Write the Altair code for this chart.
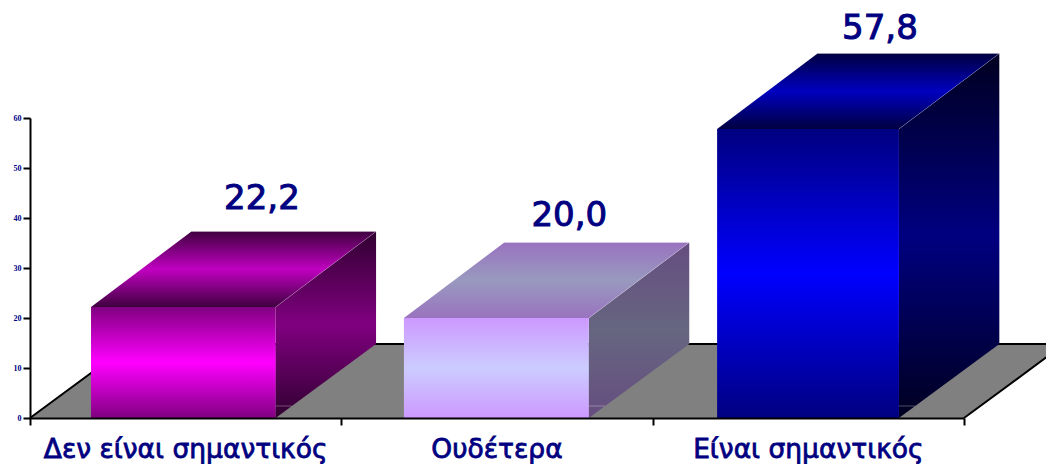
import altair as alt
import pandas as pd

categories = ["Δεν είναι σημαντικός", "Ουδέτερα", "Είναι σημαντικός"]
values = [22.2, 20.0, 57.8]
value_labels = ["22,2", "20,0", "57,8"]
y_ticks = [0, 10, 20, 30, 40, 50, 60]
x_ticks = [0, 1, 2, 3]

# face colours per bar: front (edge, centre), top (edge, centre), side (edge, centre)
front_colors = [("#800080", "#ff00ff"), ("#cc99ff", "#ccccff"), ("#000080", "#0000ff")]
top_colors = [("#400040", "#c000c0"), ("#9973bf", "#9999bf"), ("#000040", "#0000c0")]
side_colors = [("#300030", "#800080"), ("#664d80", "#666680"), ("#000020", "#000080")]

bar_left = [0.196, 1.201, 2.207]
bar_right = [0.789, 1.795, 2.791]
label_x = [0.745, 1.732, 2.73]
label_lift = [21.6, 20.4, 20.0]
DX = 0.3225   # depth in category units
DY = 14.8     # floor depth in value units
DY_TOP = 15.1 # bar top depth in value units

xs = alt.Scale(domain=[0, 3], nice=False, zero=False)
ys = alt.Scale(domain=[0, 60], nice=False, zero=False)

x_axis = alt.Axis(
    values=x_ticks, labels=False, grid=False, zindex=1,
    domainColor="black", domainWidth=2, tickColor="black", tickWidth=2, tickSize=7)
y_axis = alt.Axis(
    values=y_ticks, grid=False, zindex=1, format="d",
    domainColor="black", domainWidth=2, tickColor="black", tickWidth=2, tickSize=7,
    labelFont="Liberation Serif", labelFontSize=8, labelFontWeight="bold", labelColor="#000088",
    labelPadding=2, labelOverlap=False, labelFlush=False, labelBound=False)


def X(f="x:Q"):
    return alt.X(f, scale=xs, title=None, axis=x_axis)


def Y(f="y:Q"):
    return alt.Y(f, scale=ys, title=None, axis=y_axis)


def grad(edge, centre):
    return alt.Gradient(
        gradient="linear", x1=0, y1=0, x2=0, y2=1,
        stops=[alt.GradientStop(offset=0, color=edge),
               alt.GradientStop(offset=0.5, color=centre),
               alt.GradientStop(offset=1, color=edge)],
    )


def enc_area(ch):
    return ch.encode(x=X(), y=Y(), y2="y2:Q")


layers = []

# floor
floor = pd.DataFrame({
    "x": [0, DX, 3, 3 + DX],
    "y": [0, DY, DY, DY],
    "y2": [0, 0, 0, DY],
})
layers.append(enc_area(alt.Chart(floor).mark_area(color="#808080", opacity=1)))

outline = alt.Chart(pd.DataFrame({
    "x": [0, DX, 3 + DX, 3],
    "y": [0, DY, DY, 0],
    "o": [0, 1, 2, 3],
})).mark_line(color="black", strokeWidth=2).encode(x=X(), y=Y(), order="o:Q")
layers.append(outline)

# bars
for i, v in enumerate(values):
    l, r = bar_left[i], bar_right[i]
    side = pd.DataFrame({
        "x": [r, r + DX],
        "y": [v, v + DY_TOP],
        "y2": [0, DY],
    })
    layers.append(enc_area(alt.Chart(side).mark_area(
        color=grad(*side_colors[i]), opacity=1)))
    top = pd.DataFrame({
        "x": [l, l + DX, r, r + DX],
        "y": [v, v + DY_TOP, v + DY_TOP, v + DY_TOP],
        "y2": [v, v, v, v + DY_TOP],
    })
    layers.append(enc_area(alt.Chart(top).mark_area(
        color=grad(*top_colors[i]), opacity=1)))
    front = pd.DataFrame({"x": [l], "x2": [r], "y": [v], "y2": [0]})
    layers.append(alt.Chart(front).mark_rect(color=grad(*front_colors[i])).encode(
        x=X(), x2="x2:Q", y=Y(), y2="y2:Q",
    ))
    # pale edges of the box
    edges = pd.DataFrame({
        "x": [r, r + DX, l + DX],
        "y": [v, v + DY_TOP, v + DY_TOP],
        "o": [0, 1, 2],
    })
    layers.append(alt.Chart(edges).mark_line(color="white", strokeWidth=0.6, opacity=0.35).encode(
        x=X(), y=Y(), order="o:Q",
    ))
    # faint hidden-floor line at foot of the side face
    foot = pd.DataFrame({"x": [r], "x2": [r + 0.052], "y": [2.4]})
    layers.append(alt.Chart(foot).mark_rule(color="white", strokeWidth=1, opacity=0.3).encode(
        x=X(), x2="x2:Q", y=Y(),
    ))

labels = pd.DataFrame({
    "x": label_x,
    "y": [v + d for v, d in zip(values, label_lift)],
    "t": value_labels,
})
layers.append(alt.Chart(labels).mark_text(
    font="DejaVu Sans", fontSize=34, color="#000080", stroke="#000080", strokeWidth=1,
    baseline="middle", align="center",
).encode(x=X(), y=Y(), text="t:N"))

cat_labels = pd.DataFrame({
    "x": [i + 0.5 for i in range(3)],
    "y": [-6.4] * 3,
    "t": categories,
})
layers.append(alt.Chart(cat_labels).mark_text(
    font="DejaVu Sans", fontSize=26.5, color="#000080", stroke="#000080", strokeWidth=0.8,
    baseline="middle", align="center",
).encode(x=X(), y=Y(), text="t:N"))

chart = alt.layer(*layers).properties(
    width=934, height=300,
    padding={"left": 22, "top": 110, "right": 82, "bottom": 46},
    autosize=alt.AutoSizeParams(type="none"),
    background="white",
).configure_view(stroke=None)

chart.save("out.html", embed_options={"renderer": "svg", "actions": False})
